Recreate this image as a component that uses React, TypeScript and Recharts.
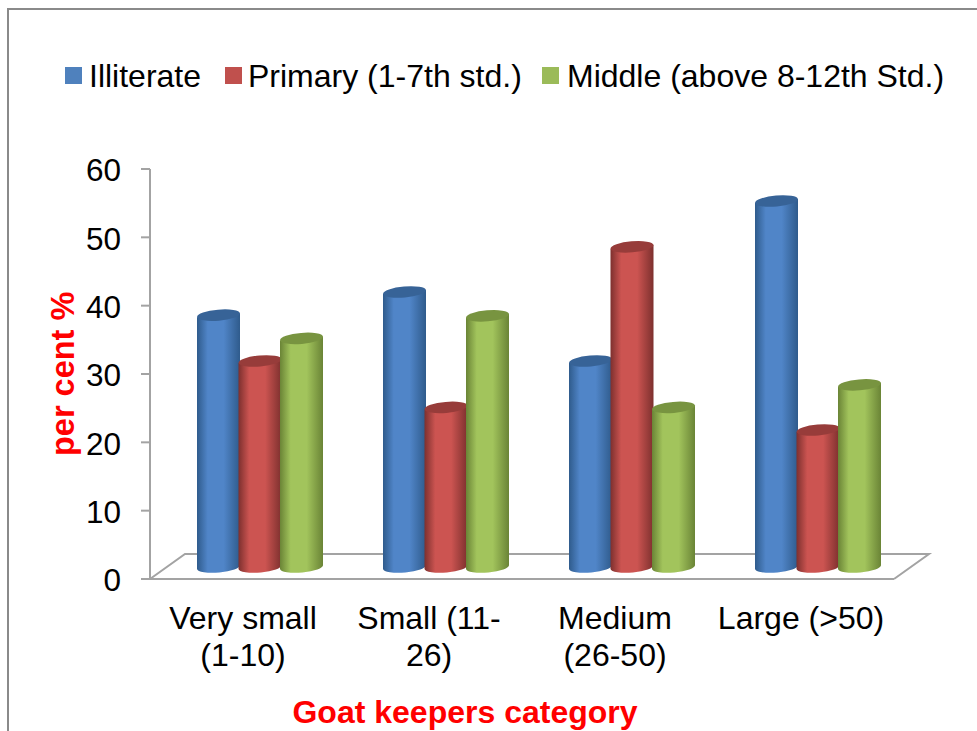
import { BarChart, Bar, XAxis, YAxis, Legend, usePlotArea } from 'recharts';

const FONT = '"Liberation Sans", Arial, sans-serif';

const categories = ['Very small\n(1-10)', 'Small (11-\n26)', 'Medium\n(26-50)', 'Large (>50)'];
const illiterate = [37, 40.4, 30.3, 53.7];
const primary = [30.3, 23.5, 47, 20.2];
const middle = [33.6, 36.9, 23.5, 26.8];
const yTicks = [0, 10, 20, 30, 40, 50, 60];

const data = categories.map((name, i) => ({
  name,
  illiterate: illiterate[i],
  primary: primary[i],
  middle: middle[i],
}));

const AXIS = '#a3a3a3';

// back floor of the fake 3D box, follows the plot area
const Floor = () => {
  const plot = usePlotArea();
  if (!plot) return null;
  const bottom = plot.y + plot.height;
  const right = plot.x + plot.width;
  return (
    <path
      d={`M${plot.x},${bottom} L${plot.x + 35},${bottom - 25} L${right + 35},${bottom - 25} L${right},${bottom}`}
      fill="none"
      stroke={AXIS}
      strokeWidth={2}
    />
  );
};

const Cylinder = (props: any) => {
  const { x, y, width, height, gradient, topColor } = props;
  const rx = width / 2;
  const ry = 5.5;
  const bottom = y + height;
  const body = `M${x},${y + 2} L${x},${bottom + 1} A${rx},${ry} -5 0 0 ${x + width},${bottom - 3} L${x + width},${y - 2} Z`;
  return (
    // bars stand in the middle of the floor, not on the front edge
    <g transform="translate(17,-11)">
      <path d={body} fill={`url(#${gradient})`} />
      <ellipse
        cx={x + rx}
        cy={y}
        rx={rx}
        ry={ry}
        fill={topColor}
        transform={`rotate(-5 ${x + rx} ${y})`}
      />
    </g>
  );
};

const CategoryTick = ({ x, y, payload }: any) => (
  <text x={x} y={y + 23} textAnchor="middle" fontFamily={FONT} fontSize={32} fill="#000">
    {String(payload.value)
      .split('\n')
      .map((line: string, i: number) => (
        <tspan key={line} x={x} dy={i === 0 ? 0 : 37}>
          {line}
        </tspan>
      ))}
  </text>
);

const legendLefts = [65, 225, 542];
const legendTextLefts = [24, 23, 25];

const LegendRow = ({ payload }: any) => (
  <div style={{ position: 'relative', height: 40, fontFamily: FONT, fontSize: 32, color: '#000' }}>
    {(payload || []).map((item: any, i: number) => (
      <div key={item.value} style={{ position: 'absolute', left: legendLefts[i], top: 0, whiteSpace: 'nowrap' }}>
        <span
          style={{
            position: 'absolute',
            left: 0,
            top: 9,
            width: 17,
            height: 17,
            background: item.color,
          }}
        />
        <span style={{ position: 'absolute', left: legendTextLefts[i], top: 0, lineHeight: '36px' }}>{item.value}</span>
      </div>
    ))}
  </div>
);

const Stops = ({ id, edge, mid }: { id: string; edge: string; mid: string }) => (
  <linearGradient id={id} x1="0" y1="0" x2="1" y2="0">
    <stop offset="0%" stopColor={edge} />
    <stop offset="25%" stopColor={mid} />
    <stop offset="62%" stopColor={mid} />
    <stop offset="100%" stopColor={edge} />
  </linearGradient>
);

export default function App() {
  return (
    <div style={{ position: 'absolute', left: 0, top: 0, width: 977, height: 731, overflow: 'hidden', background: '#fff' }}>
      <div
        style={{
          position: 'absolute',
          left: 7,
          top: 8,
          width: 970,
          height: 723,
          borderLeft: '2px solid #8a8a8a',
          borderTop: '2px solid #8a8a8a',
          boxSizing: 'border-box',
        }}
      />
      <div style={{ position: 'absolute', left: 0, top: 0 }}>
        <BarChart
          width={977}
          height={731}
          data={data}
          margin={{ top: 169, right: 83, bottom: 0, left: 50 }}
          barSize={43}
          barGap={-1.5}
          barCategoryGap="10%"
        >
          <defs>
            <Stops id="cylBlue" edge="#2f5b8c" mid="#5085c8" />
            <Stops id="cylRed" edge="#7d302e" mid="#cc5451" />
            <Stops id="cylGreen" edge="#6a8436" mid="#a2c45c" />
          </defs>
          <Floor />
          <XAxis
            dataKey="name"
            interval={0}
            height={152}
            tick={<CategoryTick />}
            tickLine={false}
            axisLine={{ stroke: AXIS, strokeWidth: 2 }}
            tickMargin={21}
            label={{
              value: 'Goat keepers category',
              position: 'insideBottom',
              offset: 8,
              dx: -57,
              fill: '#ff0000',
              fontFamily: FONT,
              fontSize: 32,
              fontWeight: 700,
            }}
          />
          <YAxis
            domain={[0, 60]}
            ticks={yTicks}
            interval={0}
            width={100}
            tick={{ fill: '#000', fontSize: 31.5, fontFamily: FONT, dy: 1 }}
            tickSize={9}
            tickMargin={20}
            tickLine={{ stroke: AXIS, strokeWidth: 2 }}
            axisLine={{ stroke: AXIS, strokeWidth: 2 }}
            label={{
              value: 'per cent %',
              angle: -90,
              position: 'insideLeft',
              offset: 12,
              dy: 82,
              fill: '#ff0000',
              fontFamily: FONT,
              fontSize: 32.5,
              fontWeight: 700,
            }}
          />
          <Legend
            verticalAlign="middle"
            itemSorter={null}
            wrapperStyle={{ left: 0, top: 58, width: 977 }}
            content={<LegendRow />}
          />
          <Bar
            dataKey="illiterate"
            name="Illiterate"
            isAnimationActive={false}
            fill="#4f81bd"
            shape={<Cylinder gradient="cylBlue" topColor="#376397" />}
          />
          <Bar
            dataKey="primary"
            name="Primary (1-7th std.)"
            isAnimationActive={false}
            fill="#c0504d"
            shape={<Cylinder gradient="cylRed" topColor="#973c3a" />}
          />
          <Bar
            dataKey="middle"
            name="Middle (above 8-12th Std.)"
            isAnimationActive={false}
            fill="#9bbb59"
            shape={<Cylinder gradient="cylGreen" topColor="#789440" />}
          />
        </BarChart>
      </div>
    </div>
  );
}
